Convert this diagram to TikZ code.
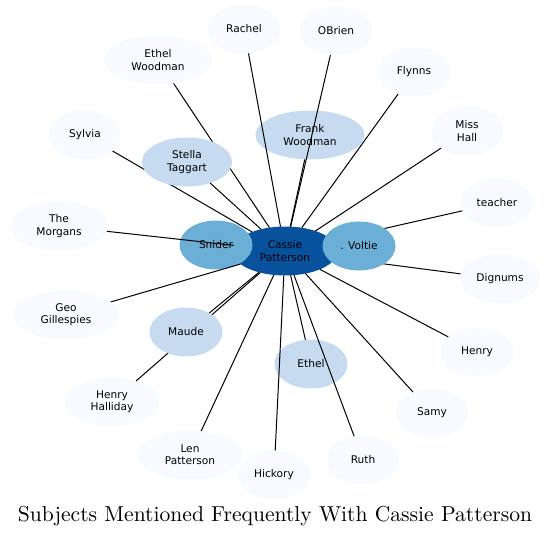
\documentclass[tikz,border=0pt]{standalone}
\usepackage{fontspec}
\newfontfamily\subjfont{DejaVu Sans}
\newfontfamily\titlefont{lmroman10-regular.otf}
\usetikzlibrary{shapes.geometric}
\definecolor{subjlight}{HTML}{F7FBFF}
\definecolor{subjmid}{HTML}{C6DBEF}
\definecolor{subjstrong}{HTML}{6BAED6}
\definecolor{subjcore}{HTML}{08519C}
\tikzset{
  subject/.style={
    shape=ellipse,
    fill=subjlight,
    minimum width=73pt, minimum height=49pt,
    inner xsep=5pt, inner ysep=2pt, outer sep=0,
    align=center,
    font=\subjfont\fontsize{10.6}{12.2}\selectfont
  },
  twoline/.style={inner xsep=12pt},
  mention/.style={draw=black, line width=1pt}
}

\begin{document}
\begin{tikzpicture}[x=1pt,y=-1pt]
\useasboundingbox (0,0) rectangle (551,535);

%%%%%%%%% rarely mentioned, one line
\foreach \n/\x/\y/\t in {rachel/244/29/Rachel, obrien/336/31/OBrien,
    flynns/414/72/Flynns, sylvia/85/135/Sylvia, teacher/497/203/teacher,
    dignums/500/279/Dignums, henry/477/352/Henry, samy/432/413/Samy,
    ruth/363/460/Ruth, hickory/274/475/Hickory}
  \node[subject] (\n) at (\x,\y) {\t};

%%%%%%%%% rarely mentioned, two lines
\foreach \n/\x/\y/\t in {ethelw/158/60/{Ethel\\Woodman}, misshall/467/131/{Miss\\Hall},
    morgans/59/226/{The\\Morgans}, geo/66/315/{Geo\\Gillespies},
    halliday/112/402/{Henry\\Halliday}, len/190/455/{Len\\Patterson}}
  \node[subject, twoline] (\n) at (\x,\y) {\t};

%%%%%%%%% middle group
\node[subject, twoline, fill=subjmid] (frank) at (310,135) {Frank\\Woodman};
\node[subject, fill=subjmid] (ethel) at (311,364) {Ethel};

%%%%%%%%% centre
\node[subject, twoline, fill=subjcore] (cassie) at (285,251) {Cassie\\Patterson};
\node[subject, fill=subjstrong] (snider) at (216,245) {Snider};

%%%%%%%%% connectors
\foreach \n in {rachel, obrien, ethelw, flynns, sylvia, misshall, teacher,
    morgans, dignums, geo, henry, halliday, samy, len, ruth, hickory,
    frank, ethel}
  \draw[mention] (cassie) -- (\n);

\node[subject, twoline, fill=subjmid] (stella) at (187,162) {Stella\\Taggart};
\node[subject, fill=subjmid] (maude) at (186,332) {Maude};
\node[subject, fill=subjstrong] (voltie) at (359,246) {. Voltie};
\draw[mention] (cassie) -- (stella);
\draw[mention] (cassie) -- (maude);

%Title
\node[anchor=base, font=\titlefont\fontsize{21.6}{24}\selectfont] (title) at (275,521)
  {Subjects Mentioned Frequently With Cassie Patterson};

\end{tikzpicture}
\end{document}
